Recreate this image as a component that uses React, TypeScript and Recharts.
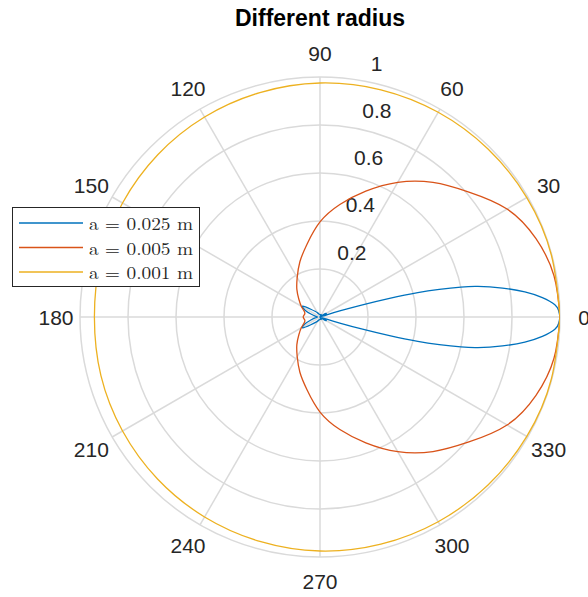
import React from "react";
import {
  RadarChart,
  Radar,
  PolarGrid,
  PolarAngleAxis,
  PolarRadiusAxis,
  LineChart,
  Line,
  XAxis,
  YAxis,
} from "recharts";

// ---------- data ----------
const angleTicks = [0, 30, 60, 90, 120, 150, 180, 210, 240, 270, 300, 330];
const radiusTicks = [0.2, 0.4, 0.6, 0.8, 1];
const seriesNames = ["a = 0.025 m", "a = 0.005 m", "a = 0.001 m"];
const seriesColors = ["#0072BD", "#D95319", "#EDB120"];

// upper half (0..180 deg) of each symmetric pattern
const blueAngles = [0, 1.5, 3, 5, 7, 9, 11, 12, 13, 14, 15, 16, 17, 18, 20, 25, 30, 35, 40, 60, 90, 120, 140, 148, 155, 162, 170, 180];
const blueRadii = [1.0, 0.995, 0.98, 0.93, 0.86, 0.77, 0.67, 0.6, 0.51, 0.42, 0.3, 0.18, 0.09, 0.03, 0.0, 0.02, 0.03, 0.02, 0.0, 0.01, 0.01, 0.02, 0.05, 0.085, 0.07, 0.04, 0.02, 0.01];

const redAngles = [0, 10, 20, 30, 40, 50, 60, 70, 80, 90, 100, 110, 120, 130, 140, 150, 160, 170, 180];
const redRadii = [1.0, 0.99, 0.957, 0.9, 0.81, 0.732, 0.648, 0.558, 0.476, 0.396, 0.309, 0.245, 0.19, 0.15, 0.115, 0.09, 0.07, 0.065, 0.07];

const yellowAngles = [0, 15, 30, 45, 60, 75, 90, 105, 120, 135, 150, 165, 180];
const yellowRadii = [1.0, 0.998, 0.995, 0.99, 0.985, 0.98, 0.975, 0.968, 0.962, 0.956, 0.95, 0.945, 0.94];

// ---------- build tables ----------
function buildCurve(angles: number[], radii: number[]) {
  const pts: { a: number; r: number }[] = angles.map((a, i) => ({ a, r: radii[i] }));
  const mirrored: { a: number; r: number }[] = [];
  for (let i = angles.length - 2; i >= 0; i--) {
    mirrored.push({ a: 360 - angles[i], r: radii[i] });
  }
  return [...pts, ...mirrored].map((p) => ({
    x: p.r * Math.cos((p.a * Math.PI) / 180),
    y: p.r * Math.sin((p.a * Math.PI) / 180),
  }));
}

const curves = [
  buildCurve(blueAngles, blueRadii),
  buildCurve(redAngles, redRadii),
  buildCurve(yellowAngles, yellowRadii),
];
const curveTypes: ("linear" | "natural")[] = ["natural", "natural", "natural"];

const angleData = angleTicks.map((a) => ({ angle: String(a), g: 0 }));

const W = 588;
const H = 597;
const CX = 320;
const CY = 317;
const R = 240;

const tickColor = "#262626";
const sansFont = "'Liberation Sans', Arial, Helvetica, sans-serif";

const AngleTick = (props: any) => {
  const { x, y, payload } = props;
  return (
    <text
      x={x}
      y={y}
      textAnchor="middle"
      dominantBaseline="central"
      fontSize={21}
      fontFamily={sansFont}
      fill={tickColor}
    >
      {payload.value}
    </text>
  );
};

const RadiusTick = (props: any) => {
  const { x, y, payload } = props;
  return (
    <text
      x={x + 9}
      y={y - 10}
      textAnchor="start"
      fontSize={21}
      fontFamily={sansFont}
      fill={tickColor}
    >
      {String(payload.value)}
    </text>
  );
};

export default function App() {
  return (
    <div style={{ position: "absolute", left: 0, top: 0, width: W, height: H, background: "#fff" }}>
      <div style={{ position: "absolute", left: 0, top: 0 }}>
        <RadarChart
          width={W}
          height={H}
          cx={CX}
          cy={CY}
          outerRadius={R}
          startAngle={30}
          endAngle={390}
          data={angleData}
          margin={{ top: 0, right: 0, bottom: 0, left: 0 }}
        >
          <PolarGrid gridType="circle" stroke="#dadada" strokeWidth={1.5} />
          <PolarAngleAxis
            dataKey="angle"
            tickSize={24}
            tickLine={false}
            axisLine={false}
            tick={<AngleTick />}
          />
          <PolarRadiusAxis
            angle={80}
            domain={[0, 1]}
            ticks={radiusTicks}
            type="number"
            axisLine={false}
            tickLine={false}
            tick={<RadiusTick />}
          />
          <Radar dataKey="g" stroke="none" fill="none" isAnimationActive={false} legendType="none" />
        </RadarChart>
      </div>
      <div style={{ position: "absolute", left: 0, top: 0 }}>
        <LineChart
          width={W}
          height={H}
          margin={{ top: CY - R, right: W - CX - R, bottom: H - CY - R, left: CX - R }}
        >
          <XAxis type="number" dataKey="x" domain={[-1, 1]} hide height={0} allowDataOverflow />
          <YAxis type="number" domain={[-1, 1]} hide width={0} allowDataOverflow />
          {curves.map((c, i) => (
            <Line
              key={seriesNames[i]}
              name={seriesNames[i]}
              data={c}
              dataKey="y"
              type={curveTypes[i]}
              stroke={seriesColors[i]}
              strokeWidth={1.3}
              dot={false}
              activeDot={false}
              isAnimationActive={false}
            />
          ))}
        </LineChart>
      </div>
      <div
        style={{
          position: "absolute",
          left: 0,
          top: 5,
          width: 640,
          textAlign: "center",
          fontFamily: sansFont,
          fontWeight: "bold",
          fontSize: 23,
          color: "#000",
        }}
      >
        Different radius
      </div>
      <div
        style={{
          position: "absolute",
          left: 12,
          top: 207,
          width: 186,
          height: 78,
          border: "1px solid #262626",
          background: "#fff",
        }}
      >
        <svg width={186} height={78}>
          {seriesNames.map((n, i) => (
            <g key={n}>
              <line x1={6} x2={70} y1={15 + i * 24.5} y2={15 + i * 24.5} stroke={seriesColors[i]} strokeWidth={1.3} />
              <text
                x={76}
                y={15 + i * 24.5}
                dominantBaseline="central"
                fontSize={17}
                fontFamily="'Latin Modern Roman', 'DejaVu Serif', 'Liberation Serif', serif"
                fill="#262626"
                textLength={104}
                lengthAdjust="spacingAndGlyphs"
              >
                {n}
              </text>
            </g>
          ))}
        </svg>
      </div>
    </div>
  );
}
